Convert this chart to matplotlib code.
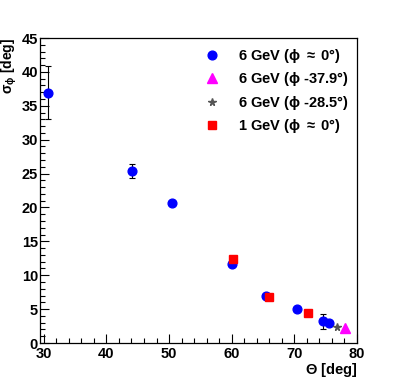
import matplotlib
matplotlib.use("Agg")
import matplotlib.pyplot as plt
from matplotlib.ticker import MultipleLocator

plt.rcParams['font.family'] = ['Liberation Sans', 'DejaVu Sans']
plt.rcParams['font.weight'] = 'bold'
plt.rcParams['axes.labelweight'] = 'bold'
plt.rcParams['mathtext.fontset'] = 'custom'
plt.rcParams['mathtext.rm'] = 'Liberation Sans:bold'
plt.rcParams['mathtext.it'] = 'Liberation Sans:bold'
plt.rcParams['mathtext.bf'] = 'Liberation Sans:bold'

# 6 GeV, phi ~ 0
theta_6 = [30.7, 44.1, 50.4, 60.0, 65.5, 70.4, 74.6, 75.5]
sigma_6 = [36.9, 25.4, 20.7, 11.7, 7.0, 4.95, 3.2, 2.9]
err_6 = [3.9, 1.05, 0.3, 0.3, 0.2, 0.2, 1.1, 0.2]

# 6 GeV, phi -37.9
theta_m38 = [78.1]
sigma_m38 = [2.2]

# 6 GeV, phi -28.5
theta_m28 = [76.8]
sigma_m28 = [2.4]

# 1 GeV, phi ~ 0
theta_1 = [60.2, 66.0, 72.2]
sigma_1 = [12.4, 6.8, 4.5]

fig = plt.figure(figsize=(3.98, 3.82), dpi=100)
ax = fig.add_axes([0.1005, 0.102, 0.7965, 0.7985])

ax.errorbar(theta_6, sigma_6, yerr=err_6, fmt='none', ecolor='black',
            elinewidth=0.8, capsize=2.5, capthick=0.8, zorder=2)
ax.plot(theta_6, sigma_6, 'o', color='#0000ff', markersize=6.3, zorder=3,
        label=r'6 GeV ($\phi$ $\approx$ 0°)')
ax.plot(theta_m38, sigma_m38, '^', color='#ff00ff', markersize=6.5, zorder=3,
        label=r'6 GeV ($\phi$ -37.9°)')
ax.plot(theta_m28, sigma_m28, '*', color='#555555', markersize=5.5, zorder=3,
        label=r'6 GeV ($\phi$ -28.5°)')
ax.plot(theta_1, sigma_1, 's', color='#ff0000', markersize=5.5, zorder=4,
        label=r'1 GeV ($\phi$ $\approx$ 0°)')

ax.set_xlim(29.4, 80)
ax.set_ylim(0, 45)
ax.xaxis.set_major_locator(MultipleLocator(10))
ax.xaxis.set_minor_locator(MultipleLocator(2))
ax.yaxis.set_major_locator(MultipleLocator(5))
ax.yaxis.set_minor_locator(MultipleLocator(1))
ax.tick_params(which='both', direction='in', top=False, right=False, labelsize=10.5)
ax.tick_params(which='major', length=6.5, width=0.8)
ax.tick_params(which='minor', length=3.3, width=0.8)
ax.tick_params(axis='x', pad=3)
ax.tick_params(axis='y', pad=1.5)
for lbl in ax.get_xticklabels() + ax.get_yticklabels():
    lbl.set_fontweight('bold')
for s in ax.spines.values():
    s.set_linewidth(0.9)

ax.set_xlabel(r'$\Theta$ [deg]', fontsize=10.5, ha='right')
ax.xaxis.set_label_coords(1.0, -0.058)
ax.set_ylabel(r'$\sigma_{\phi}$ [deg]', fontsize=10, ha='right')
ax.yaxis.set_label_coords(-0.066, 1.0)

ax.legend(loc='upper right', bbox_to_anchor=(1.0, 1.0), frameon=False,
          fontsize=10.5, handletextpad=1.0, labelspacing=0.38,
          borderaxespad=0.2, handlelength=1.5, numpoints=1)

fig.savefig('out.png', dpi=100)
